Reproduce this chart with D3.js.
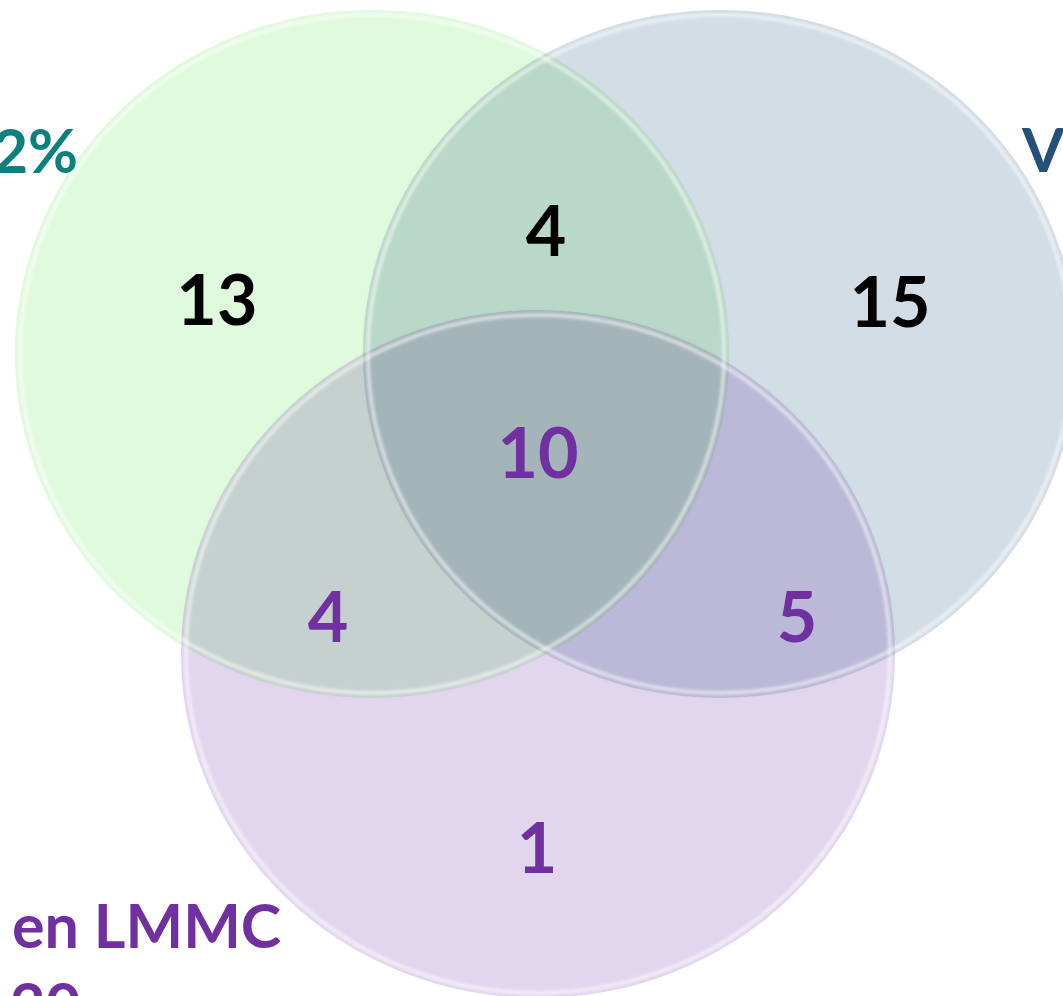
<!DOCTYPE html>
<html>
<head>
<meta charset="utf-8">
<script src="https://cdn.jsdelivr.net/npm/d3@7"></script>
<style>
  html, body { margin: 0; padding: 0; background: #fff; overflow: hidden; }
  svg { display: block; }
  .set { mix-blend-mode: multiply; }
</style>
</head>
<body>
<svg id="chart" width="1063" height="996"></svg>
<script>
// ---- data ----
const setNames  = ["2%", "V", "en LMMC"];
const setColors = ["#e0fadd", "#d3dde6", "#e2d6ef"];
const labelColors = ["#0b807c", "#245079", "#7030a0"];
const regionKeys   = ["A", "B", "C", "AB", "AC", "BC", "ABC"];
const regionValues = [13, 15, 1, 4, 4, 5, 10];
const regionColors = ["#000", "#000", "#7030a0", "#000", "#7030a0", "#7030a0", "#7030a0"];
const extraLabel = "20";

// ---- layout (abstract units -> pixels) ----
const x = d3.scaleLinear().domain([0, 1]).range([0, 1063]);
const y = d3.scaleLinear().domain([0, 1]).range([0, 996]);
const centers = [[0.350, 0.3554], [0.6773, 0.3554], [0.5061, 0.6566]];
const rx = 357, ry = 344;
// baseline positions of region numbers
const regionPos = {
  A: [0.2041, 0.3263], B: [0.8373, 0.3283], C: [0.5052, 0.8765],
  AB: [0.5136, 0.2570], AC: [0.3086, 0.6446], BC: [0.7498, 0.6446], ABC: [0.5061, 0.4799]
};

const svg = d3.select("#chart");
const font = "Lato, 'DejaVu Sans', sans-serif";

// circles (multiply blend)
const g = svg.append("g");
g.selectAll("ellipse.set").data(setNames).join("ellipse")
  .attr("class", "set")
  .attr("cx", (d, i) => x(centers[i][0]))
  .attr("cy", (d, i) => y(centers[i][1]))
  .attr("rx", rx).attr("ry", ry)
  .attr("fill", (d, i) => setColors[i]);

// bevel highlights
const defs = svg.append("defs");
defs.append("filter").attr("id", "blur").append("feGaussianBlur").attr("stdDeviation", 1.8);
const hl = svg.append("g").attr("filter", "url(#blur)");
hl.selectAll("ellipse.hl").data(setNames).join("ellipse")
  .attr("class", "hl")
  .attr("cx", (d, i) => x(centers[i][0]))
  .attr("cy", (d, i) => y(centers[i][1]))
  .attr("rx", rx - 5).attr("ry", ry - 5)
  .attr("fill", "none")
  .attr("stroke", "#fff").attr("stroke-opacity", 0.6).attr("stroke-width", 3.5);
hl.selectAll("ellipse.edge").data(setNames).join("ellipse")
  .attr("class", "edge")
  .attr("cx", (d, i) => x(centers[i][0]))
  .attr("cy", (d, i) => y(centers[i][1]))
  .attr("rx", rx - 1).attr("ry", ry - 1)
  .attr("fill", "none")
  .attr("stroke", (d, i) => labelColors[i]).attr("stroke-opacity", 0.04).attr("stroke-width", 1.5);

// region values
svg.selectAll("text.val").data(regionKeys).join("text")
  .attr("class", "val")
  .attr("x", d => x(regionPos[d][0]))
  .attr("y", d => y(regionPos[d][1]))
  .attr("text-anchor", "middle")
  .attr("font-family", font).attr("font-weight", 700).attr("font-size", 70)
  .attr("fill", (d, i) => regionColors[i])
  .text((d, i) => regionValues[i]);

// set labels
const labelPos = [[78, 173, "end"], [1022, 172, "start"], [12, 948, "start"]];
svg.selectAll("text.lab").data(setNames).join("text")
  .attr("class", "lab")
  .attr("x", (d, i) => labelPos[i][0])
  .attr("y", (d, i) => labelPos[i][1])
  .attr("text-anchor", (d, i) => labelPos[i][2])
  .attr("font-family", font).attr("font-weight", 700).attr("font-size", 61)
  .attr("fill", (d, i) => labelColors[i])
  .text(d => d);
svg.append("text")
  .attr("x", 10).attr("y", 1027)
  .attr("font-family", font).attr("font-weight", 700).attr("font-size", 61)
  .attr("fill", labelColors[2])
  .text(extraLabel);
</script>
</body>
</html>
